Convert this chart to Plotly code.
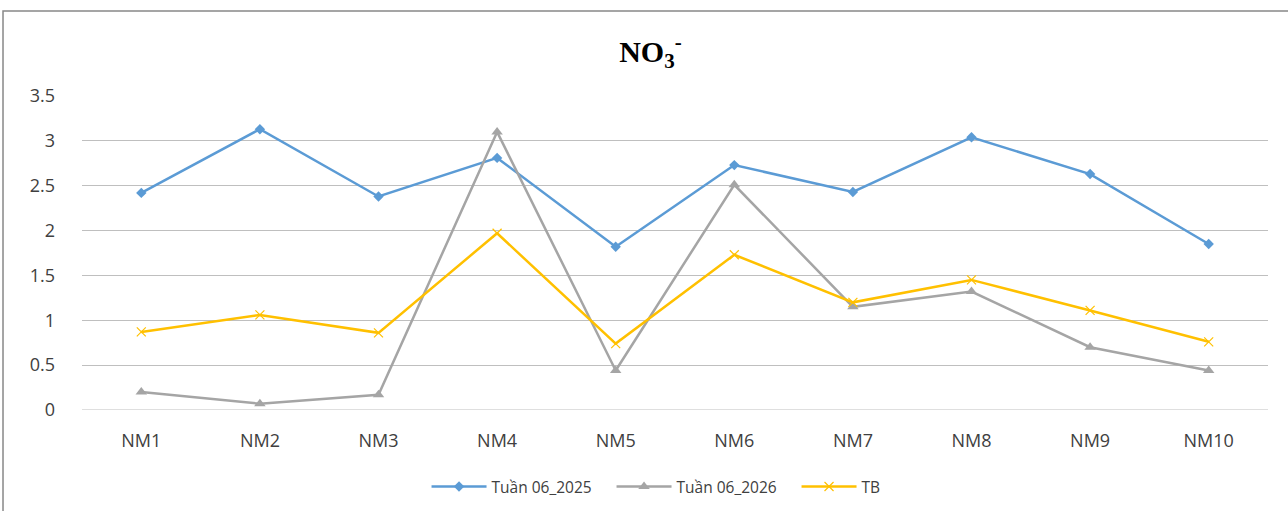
import plotly.graph_objects as go

categories = ["NM1", "NM2", "NM3", "NM4", "NM5", "NM6", "NM7", "NM8", "NM9", "NM10"]
tuan_2025 = [2.42, 3.13, 2.38, 2.81, 1.82, 2.73, 2.43, 3.04, 2.63, 1.85]
tuan_2026 = [0.20, 0.07, 0.17, 3.10, 0.44, 2.51, 1.15, 1.32, 0.70, 0.44]
tb = [0.87, 1.06, 0.86, 1.97, 0.74, 1.73, 1.20, 1.45, 1.11, 0.76]
y_ticks = [0, 0.5, 1, 1.5, 2, 2.5, 3, 3.5]

fig = go.Figure()
fig.add_trace(go.Scatter(x=categories, y=tuan_2025, name="Tuần 06_2025", mode="lines+markers",
                         line=dict(color="#5B9BD5", width=2.5),
                         marker=dict(symbol="diamond", size=8, color="#5B9BD5")))
fig.add_trace(go.Scatter(x=categories, y=tuan_2026, name="Tuần 06_2026", mode="lines+markers",
                         line=dict(color="#A5A5A5", width=2.5),
                         marker=dict(symbol="triangle-up", size=10, color="#A5A5A5")))
fig.add_trace(go.Scatter(x=categories, y=tb, name="TB", mode="lines+markers",
                         line=dict(color="#FFC000", width=2.5),
                         marker=dict(symbol="x-thin", size=9, color="#FFC000",
                                     line=dict(color="#FFC000", width=1.2))))

fig.update_layout(
    width=1288, height=511,
    margin=dict(l=82, r=20, t=96, b=101, autoexpand=False),
    paper_bgcolor="white", plot_bgcolor="white",
    title=dict(text="<b>NO<sub>3</sub><sup>-</sup></b>", x=0.505, xanchor="center", y=0.9, yanchor="middle",
               font=dict(family="Liberation Serif", size=30, color="black")),
    font=dict(family="Open Sans", color="#404040"),
    showlegend=True,
    legend=dict(orientation="h", x=0.2905, xanchor="left", y=-0.245, yanchor="middle",
                font=dict(size=15.5, color="#404040"), itemwidth=55,
                entrywidth=115, entrywidthmode="pixels"),
    xaxis=dict(type="category", showgrid=False, showline=False, ticks="",
               ticklabelstandoff=18,
               tickfont=dict(size=18, color="#404040"), range=[-0.5, 9.5]),
    yaxis=dict(range=[0, 3.5], tickvals=y_ticks, ticktext=[f"{v:g}" for v in y_ticks],
               showgrid=True, gridcolor="#BFBFBF", gridwidth=1, zeroline=False,
               showline=False, ticks="", ticklabelstandoff=26,
               tickfont=dict(size=18, color="#404040")),
)
fig.add_shape(type="rect", xref="paper", yref="paper", x0=-0.0666, x1=1.2, y0=-0.5, y1=1.2707,
              line=dict(color="#888888", width=1.5), fillcolor="rgba(0,0,0,0)", layer="below")
fig.add_shape(type="line", xref="paper", yref="y", x0=0, x1=1, y0=0, y1=0,
              line=dict(color="#BFBFBF", width=1), layer="below")

fig.write_html("out.html", config={"displayModeBar": False},
               post_script="document.body.style.margin='0';")
